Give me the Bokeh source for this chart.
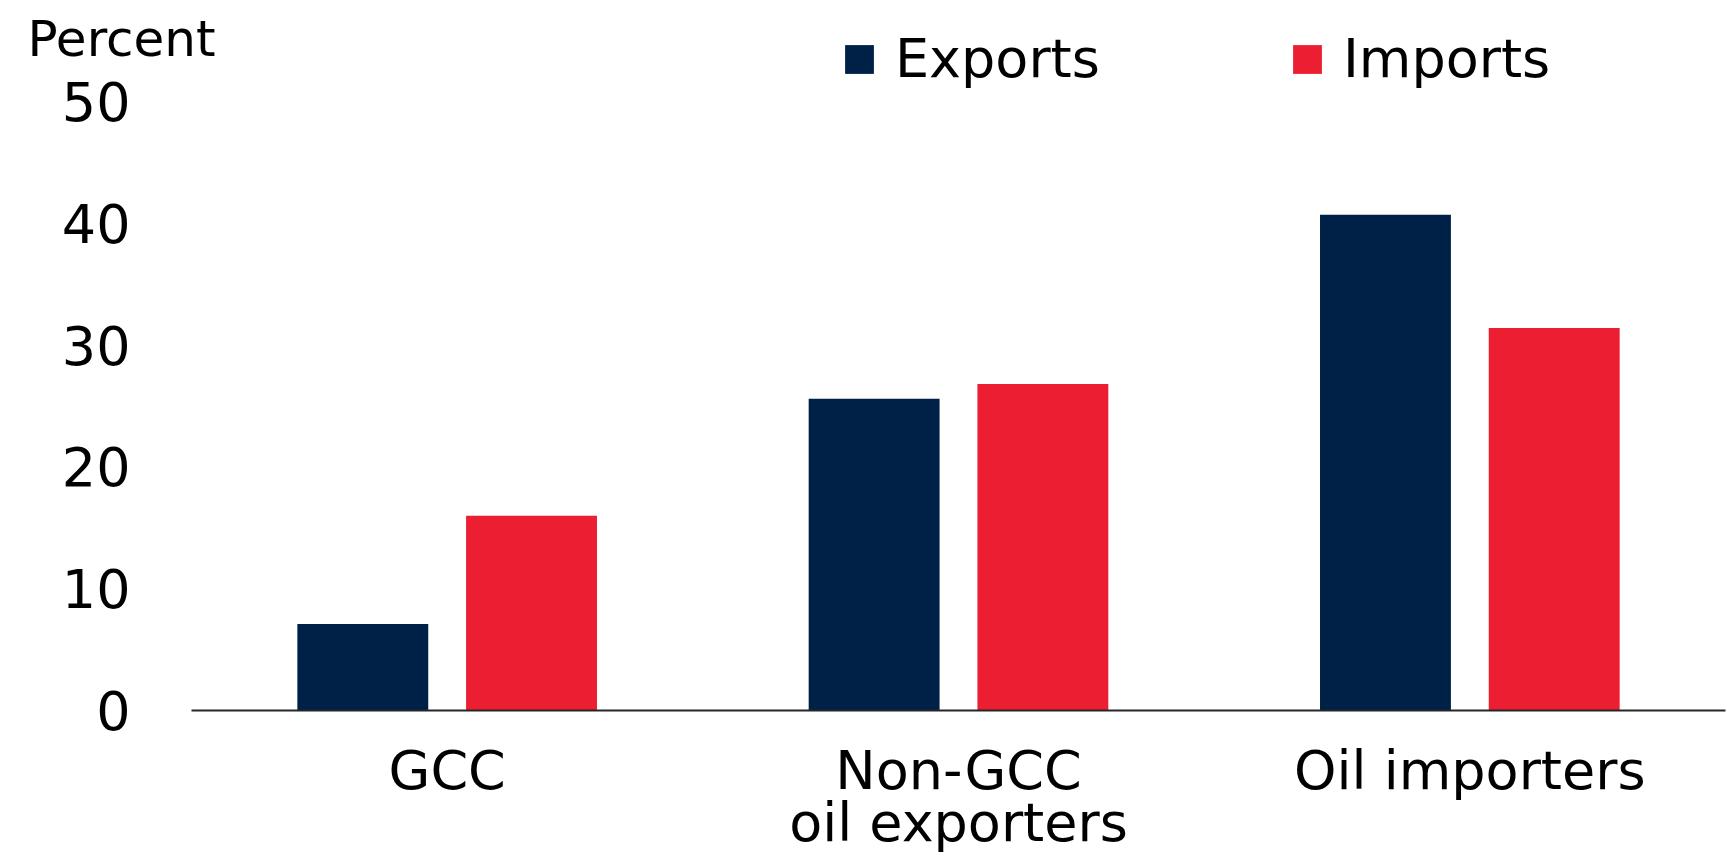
from bokeh.plotting import figure
from bokeh.models import ColumnDataSource, FixedTicker, Legend, LegendItem, Label, Range1d
from bokeh.transform import dodge
from bokeh.embed import file_html
from bokeh.resources import INLINE

categories = ["GCC", "Non-GCC\noil exporters", "Oil importers"]
exports = [7.1, 25.6, 40.7]
imports = [16.0, 26.8, 31.4]
y_ticks = [0, 10, 20, 30, 40, 50]

NAVY = "#002147"
RED = "#EC1E31"
FONT = "DejaVu Sans"
FS = "54px"

src = ColumnDataSource(dict(cat=categories, exp=exports, imp=imports))

p = figure(x_range=categories, y_range=Range1d(0, 58.3), width=1731, height=857,
           output_backend="svg", toolbar_location=None,
           min_border_left=191, min_border_right=6, min_border_top=0, min_border_bottom=140)
p.outline_line_color = None
p.xgrid.grid_line_color = None
p.ygrid.grid_line_color = None
p.x_range.range_padding = 0

r1 = p.vbar(x=dodge("cat", -0.165, range=p.x_range), top="exp", width=0.256, source=src,
            fill_color=NAVY, line_color=None)
r2 = p.vbar(x=dodge("cat", 0.165, range=p.x_range), top="imp", width=0.256, source=src,
            fill_color=RED, line_color=None)

ya = p.yaxis[0]
ya.ticker = FixedTicker(ticks=y_ticks)
ya.axis_line_color = None
ya.major_tick_line_color = None
ya.minor_tick_line_color = None
ya.major_tick_out = 0
ya.major_label_standoff = -127
ya.major_label_text_font = FONT
ya.major_label_text_font_size = FS
ya.major_label_text_color = "black"

xa = p.xaxis[0]
xa.axis_line_color = "#262626"
xa.axis_line_width = 2
xa.major_tick_line_color = None
xa.minor_tick_line_color = None
xa.major_tick_out = 0
xa.major_label_standoff = 28
xa.major_label_text_font = FONT
xa.major_label_text_font_size = FS
xa.major_label_text_color = "black"
xa.major_label_text_line_height = 0.84

legend = Legend(items=[LegendItem(label="Exports", renderers=[r1]),
                       LegendItem(label="Imports", renderers=[r2])],
                orientation="horizontal", location=(650, 620),
                glyph_width=36, glyph_height=36, label_standoff=18, spacing=189,
                padding=0, margin=0, border_line_color=None, background_fill_alpha=0,
                label_text_font=FONT, label_text_font_size=FS, label_text_color="black")
p.add_layout(legend, "center")

percent = Label(x=24, y=671.5, x_units="screen", y_units="screen", text="Percent",
                text_font=FONT, text_font_size="50px", text_color="black",
                text_baseline="alphabetic")
p.left = [percent, ya]

open("out.html", "w").write(file_html(p, INLINE))
